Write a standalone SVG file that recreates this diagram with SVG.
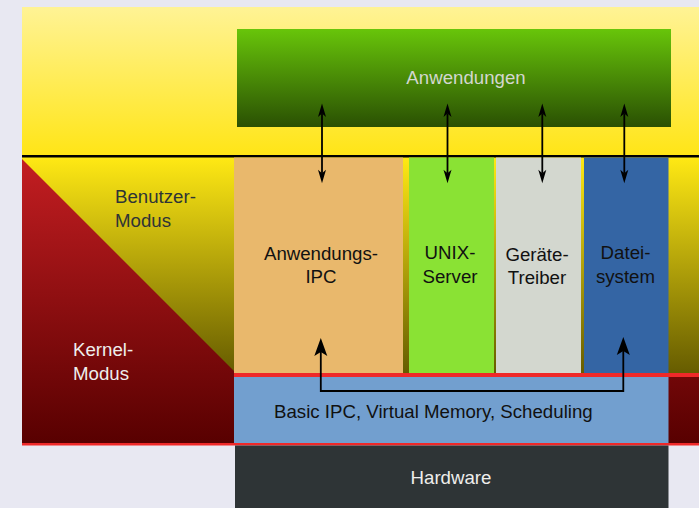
<svg xmlns="http://www.w3.org/2000/svg" width="699" height="508" viewBox="0 0 699 508">
<defs>
<linearGradient id="gTop" gradientUnits="userSpaceOnUse" x1="0" y1="7" x2="0" y2="155"><stop offset="0" stop-color="#fff395"/><stop offset="1" stop-color="#ffe517"/></linearGradient>
<linearGradient id="gYel" gradientUnits="userSpaceOnUse" x1="0" y1="157" x2="0" y2="373"><stop offset="0" stop-color="#ffe914"/><stop offset="1" stop-color="#665c00"/></linearGradient>
<linearGradient id="gRed" gradientUnits="userSpaceOnUse" x1="0" y1="157" x2="0" y2="443"><stop offset="0" stop-color="#c41e22"/><stop offset="1" stop-color="#580000"/></linearGradient>
<linearGradient id="gGreen" gradientUnits="userSpaceOnUse" x1="0" y1="29" x2="0" y2="127"><stop offset="0" stop-color="#68c50a"/><stop offset="1" stop-color="#2a5003"/></linearGradient>
<marker id="aS" viewBox="-14 -5 15 10" refX="-10" refY="0" markerWidth="15" markerHeight="10" markerUnits="userSpaceOnUse" orient="auto-start-reverse"><path d="M0,0 L-13.5,-4 L-10,0 L-13.5,4 Z" fill="#000"/></marker>
<marker id="aL" viewBox="-19 -7 20 14" refX="-14" refY="0" markerWidth="20" markerHeight="14" markerUnits="userSpaceOnUse" orient="auto-start-reverse"><path d="M0,0 L-18,-6.5 L-14,0 L-18,6.5 Z" fill="#000"/></marker>
</defs>
<style>
text{font-family:"Liberation Sans",Arial,sans-serif;font-size:18.67px}
.c{text-anchor:middle}
.dk{fill:#111}
.lt{fill:#eeeeec}
.ln{fill:none;stroke:#000;stroke-width:1.8}
</style>
<rect width="699" height="508" fill="#e8e8f2"/>
<g id="background">
<rect x="22" y="7" width="677" height="149" fill="url(#gTop)"/>
<rect x="22" y="157" width="677" height="287" fill="url(#gRed)"/>
<polygon points="22,157 699,157 699,373 236,373 22,159" fill="url(#gYel)"/>
<rect x="22" y="155" width="677" height="2.5" fill="#000"/>
<rect x="234" y="373" width="465" height="4" fill="#ef2929"/>
<rect x="22" y="443" width="677" height="2.5" fill="#ef2929"/>
</g>
<g id="mode-labels">
<text x="115" y="203" fill="#2e3436">Benutzer-</text>
<text x="115" y="226.7" fill="#2e3436">Modus</text>
<text x="73" y="356" class="lt">Kernel-</text>
<text x="73" y="380" class="lt">Modus</text>
</g>
<g id="anwendungen">
<rect x="237" y="29" width="434" height="98" fill="url(#gGreen)"/>
<text x="466" y="84" class="c" fill="#d3d7cf">Anwendungen</text>
</g>
<g id="anwendungs-ipc">
<rect x="234" y="157.5" width="169" height="215.5" fill="#e9b86c"/>
<text x="321" y="260" class="c dk">Anwendungs-</text>
<text x="321" y="283.3" class="c dk">IPC</text>
</g>
<g id="unix-server">
<rect x="409" y="157.5" width="85" height="215.5" fill="#8ae234"/>
<text x="450" y="259.3" class="c dk">UNIX-</text>
<text x="450" y="282.7" class="c dk">Server</text>
</g>
<g id="geraete-treiber">
<rect x="496" y="157.5" width="85" height="215.5" fill="#d3d7cf"/>
<text x="537" y="261" class="c dk">Geräte-</text>
<text x="537" y="284.3" class="c dk">Treiber</text>
</g>
<g id="dateisystem">
<rect x="584" y="157.5" width="84.5" height="215.5" fill="#3465a4"/>
<text x="625.5" y="259.3" class="c dk">Datei-</text>
<text x="625.5" y="282.7" class="c dk">system</text>
</g>
<g id="basic-ipc">
<rect x="234" y="377" width="434.5" height="66" fill="#729fcf"/>
<text x="274" y="418.3" class="dk">Basic IPC, Virtual Memory, Scheduling</text>
</g>
<g id="hardware">
<rect x="235" y="445.5" width="433.5" height="62.5" fill="#2e3436"/>
<text x="451" y="484.3" class="c lt">Hardware</text>
</g>
<g id="connectors">
<path class="ln" d="M322,113.5 V173.3" marker-start="url(#aS)" marker-end="url(#aS)"/>
<path class="ln" d="M447.5,113.5 V173.3" marker-start="url(#aS)" marker-end="url(#aS)"/>
<path class="ln" d="M542.3,113.5 V173.3" marker-start="url(#aS)" marker-end="url(#aS)"/>
<path class="ln" d="M624.3,113.5 V173.3" marker-start="url(#aS)" marker-end="url(#aS)"/>
<path class="ln" d="M320.8,352 V391 H623.3 V351" marker-start="url(#aL)" marker-end="url(#aL)"/>
</g>
</svg>
